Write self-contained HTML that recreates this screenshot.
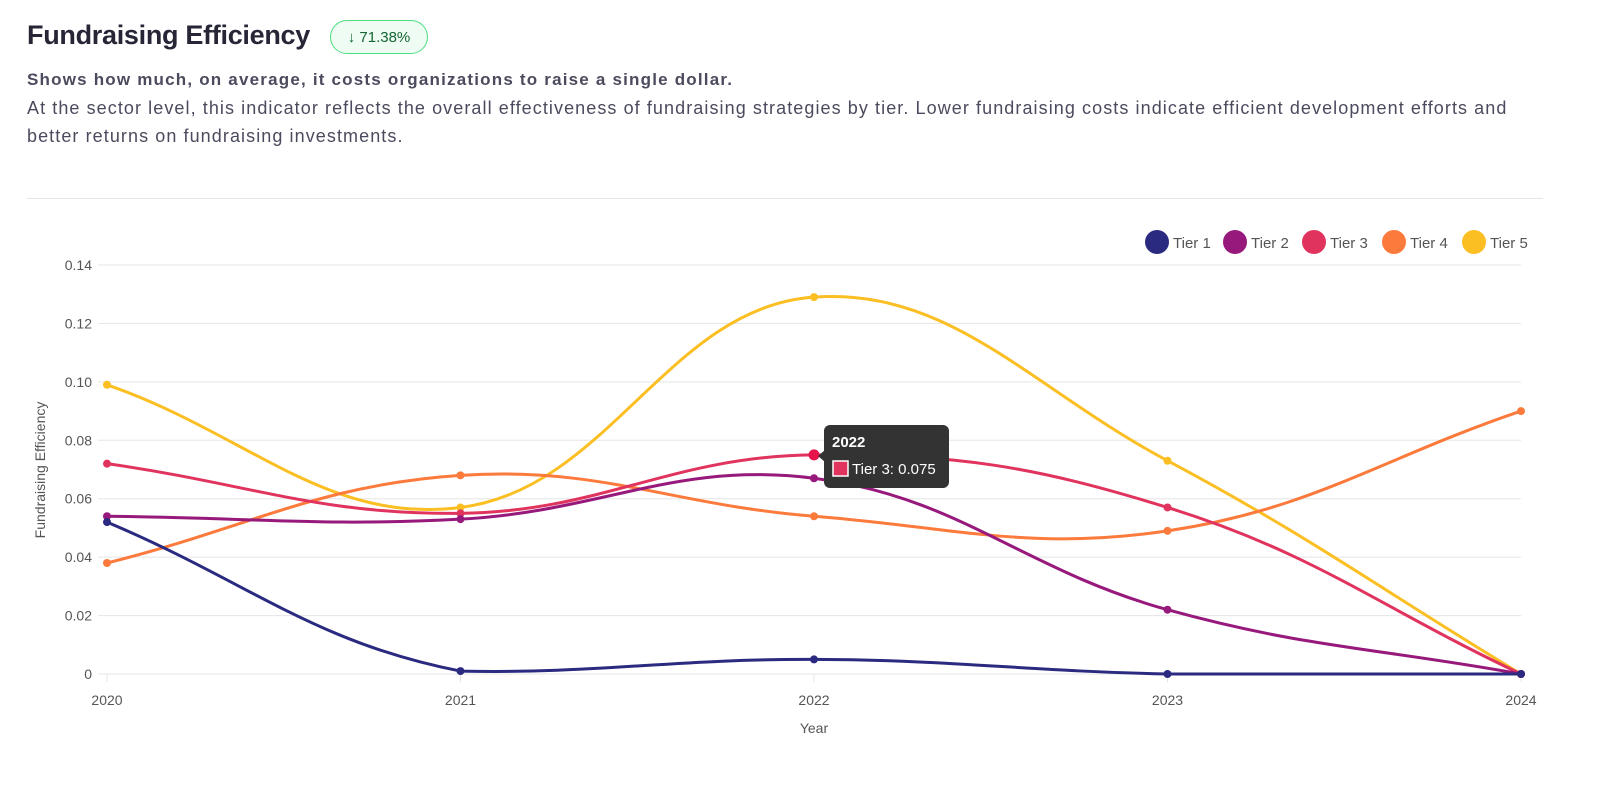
<!DOCTYPE html>
<html><head><meta charset="utf-8"><style>
body{margin:0;background:#fff;font-family:"Liberation Sans",sans-serif;width:1600px;height:785px;overflow:hidden;position:relative}
.t{position:absolute;left:27px;top:20px;font-size:27px;font-weight:bold;color:#262637;letter-spacing:-0.3px}
.b{position:absolute;left:330px;top:20px;width:98px;height:34px;border:1.5px solid #4ade80;border-radius:17px;background:#effcf3;color:#166534;font-size:15px;line-height:34px;text-align:center;box-sizing:border-box}
.s{position:absolute;left:27px;top:70px;font-size:17px;font-weight:bold;color:#4b4b5e;letter-spacing:1.2px;white-space:nowrap}
.p{position:absolute;left:27px;top:94px;font-size:18px;line-height:28px;color:#4b4b5e;letter-spacing:1.08px;white-space:nowrap}
.hr{position:absolute;left:27px;top:198px;width:1516px;height:1px;background:#e5e5e5}
</style></head><body>
<div class="t">Fundraising Efficiency</div>
<div class="b">↓ 71.38%</div>
<div class="s">Shows how much, on average, it costs organizations to raise a single dollar.</div>
<div class="p">At the sector level, this indicator reflects the overall effectiveness of fundraising strategies by tier. Lower fundraising costs indicate efficient development efforts and<br>better returns on fundraising investments.</div>
<div class="hr"></div>
<svg id="c" width="1600" height="785" style="position:absolute;left:0;top:0" font-family="Liberation Sans, sans-serif"></svg>
<script>
const svg=document.getElementById('c');let h='';
const X=i=>107+i*353.5, Y=v=>674-v*(409/0.14);
for(let k=0;k<=7;k++){const y=Y(k*0.02);h+=`<line x1="98" x2="1521" y1="${y}" y2="${y}" stroke="#e5e5e5"/>`;
h+=`<text x="92" y="${y+5}" font-size="14" fill="#555" text-anchor="end">${k==0?'0':(k*0.02).toFixed(2)}</text>`;}
for(let i=0;i<5;i++){h+=`<line x1="${X(i)}" x2="${X(i)}" y1="674" y2="682" stroke="#e5e5e5"/><text x="${X(i)}" y="705" font-size="14" fill="#555" text-anchor="middle">${2020+i}</text>`;}
h+=`<text x="814" y="733" font-size="14" fill="#555" text-anchor="middle">Year</text>`;
h+=`<text transform="translate(45,470) rotate(-90)" font-size="14" fill="#555" text-anchor="middle">Fundraising Efficiency</text>`;
const S=[["#2a2a80",[0.052,0.001,0.005,0,0]],["#97197c",[0.054,0.053,0.067,0.022,0]],["#e0345f",[0.072,0.055,0.075,0.057,0]],["#fb7a3c",[0.038,0.068,0.054,0.049,0.090]],["#fbbf24",[0.099,0.057,0.129,0.073,0]]];
const T=0.4;
const cl=(q)=>[Math.min(1521,Math.max(107,q[0])),Math.min(674,Math.max(265,q[1]))];
S.slice().reverse().forEach(([c,d])=>{const p=d.map((v,i)=>[X(i),Y(v)]);const cp=[];
p.forEach((cur,i)=>{const pr=p[i-1]||cur,nx=p[i+1]||cur;const d01=Math.hypot(cur[0]-pr[0],cur[1]-pr[1]),d12=Math.hypot(nx[0]-cur[0],nx[1]-cur[1]);let s01=d01/(d01+d12),s12=d12/(d01+d12);if(isNaN(s01))s01=0;if(isNaN(s12))s12=0;const fa=T*s01,fb=T*s12;cp.push([cl([cur[0]-fa*(nx[0]-pr[0]),cur[1]-fa*(nx[1]-pr[1])]),cl([cur[0]+fb*(nx[0]-pr[0]),cur[1]+fb*(nx[1]-pr[1])])]);});
let path=`M${p[0]}`;for(let i=1;i<p.length;i++)path+=` C${cp[i-1][1]} ${cp[i][0]} ${p[i]}`;
h+=`<path d="${path}" fill="none" stroke="${c}" stroke-width="3"/>`;
p.forEach(q=>h+=`<circle cx="${q[0]}" cy="${q[1]}" r="4" fill="${c}"/>`);});
h+=`<circle cx="${X(2)}" cy="${Y(0.075)}" r="5.5" fill="#e5154a"/>`;
const L=[[1157,"Tier 1"],[1235,"Tier 2"],[1314,"Tier 3"],[1394,"Tier 4"],[1474,"Tier 5"]];
L.forEach(([x,t],i)=>{h+=`<circle cx="${x}" cy="242" r="12" fill="${S[i][0]}"/><text x="${x+16}" y="248" font-size="15" fill="#555">${t}</text>`;});
h+=`<path d="M818 456 L825 450 L825 462 Z" fill="#333"/><rect x="824" y="425" width="125" height="63" rx="6" fill="#333"/>`;
h+=`<text x="832" y="447" font-size="15" font-weight="bold" fill="#fff">2022</text>`;
h+=`<rect x="833" y="461" width="15" height="15" fill="#e0345f" stroke="#fff" stroke-width="1.5"/><text x="852" y="474" font-size="15" fill="#fff">Tier 3: 0.075</text>`;
svg.innerHTML=h;
</script>
</body></html>
